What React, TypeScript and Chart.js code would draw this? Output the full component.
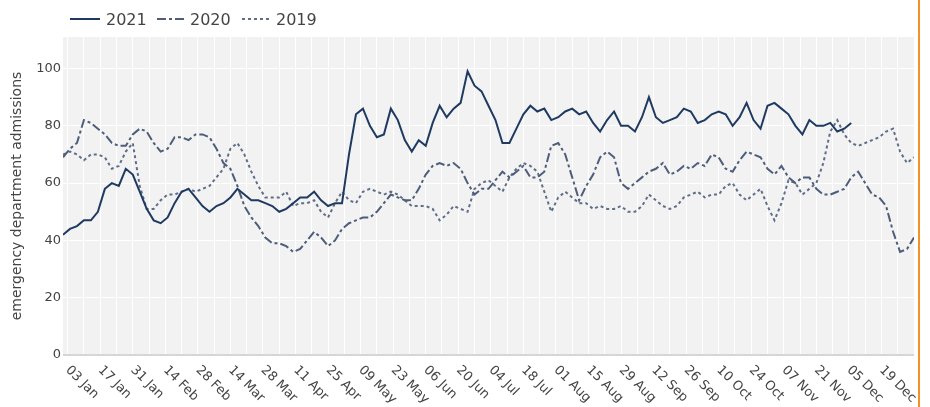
import React, { useEffect, useRef } from 'react'
import Chart from 'chart.js/auto'

// one sample every STEP days, day 0 = 1 Jan
const STEP = 3
const YEAR_DAYS = 366
const FIRST_TICK_DAY = 2
const TICK_LABELS = [
  '03 Jan', '17 Jan', '31 Jan', '14 Feb', '28 Feb', '14 Mar', '28 Mar', '11 Apr', '25 Apr',
  '09 May', '23 May', '06 Jun', '20 Jun', '04 Jul', '18 Jul', '01 Aug', '15 Aug', '29 Aug',
  '12 Sep', '26 Sep', '10 Oct', '24 Oct', '07 Nov', '21 Nov', '05 Dec', '19 Dec',
]

const SERIES_2021 = [
  42, 44, 45, 47, 47, 50, 58, 60, 59, 65,
  63, 57, 51, 47, 46, 48, 53, 57, 58, 55,
  52, 50, 52, 53, 55, 58, 56, 54, 54, 53,
  52, 50, 51, 53, 55, 55, 57, 54, 52, 53,
  53, 70, 84, 86, 80, 76, 77, 86, 82, 75,
  71, 75, 73, 81, 87, 83, 86, 88, 99, 94,
  92, 87, 82, 74, 74, 79, 84, 87, 85, 86,
  82, 83, 85, 86, 84, 85, 81, 78, 82, 85,
  80, 80, 78, 83, 90, 83, 81, 82, 83, 86,
  85, 81, 82, 84, 85, 84, 80, 83, 88, 82,
  79, 87, 88, 86, 84, 80, 77, 82, 80, 80,
  81, 78, 79, 81,
]

const SERIES_2020 = [
  69, 72, 74, 82, 81, 79, 77, 74, 73, 73,
  77, 79, 78, 74, 71, 72, 76, 76, 75, 77,
  77, 76, 72, 67, 65, 59, 52, 48, 45, 41,
  39, 39, 38, 36, 37, 40, 43, 41, 38, 40,
  44, 46, 47, 48, 48, 50, 53, 56, 55, 54,
  54, 58, 63, 66, 67, 66, 67, 65, 60, 56,
  58, 58, 61, 64, 62, 64, 66, 62, 62, 64,
  73, 74, 70, 62, 54, 59, 63, 69, 71, 69,
  60, 58, 60, 62, 64, 65, 67, 63, 64, 66,
  65, 67, 66, 70, 69, 65, 64, 68, 71, 70,
  69, 65, 63, 66, 62, 60, 62, 62, 58, 56,
  56, 57, 58, 62, 64, 60, 56, 55, 52, 43,
  36, 37, 41,
]

const SERIES_2019 = [
  70, 71, 70, 68, 70, 70, 69, 65, 66, 71,
  74, 59, 51, 51, 54, 56, 56, 57, 58, 57,
  58, 59, 62, 65, 72, 74, 70, 64, 59, 55,
  55, 55, 57, 52, 53, 53, 54, 50, 48, 53,
  57, 54, 53, 57, 58, 57, 56, 57, 56, 54,
  52, 52, 52, 51, 47, 49, 52, 51, 50, 58,
  60, 61, 59, 57, 62, 65, 67, 66, 64, 57,
  50, 55, 57, 55, 53, 53, 51, 52, 51, 51,
  52, 50, 50, 52, 56, 54, 52, 51, 52, 55,
  56, 57, 55, 56, 56, 59, 60, 56, 54, 56,
  58, 52, 47, 53, 61, 60, 56, 58, 60, 67,
  78, 82, 77, 74, 73, 74, 75, 76, 78, 79,
  71, 67, 69,
]

const FONT = '"DejaVu Sans", Verdana, sans-serif'
const TEXT = '#444'

const SERIES = [
  { label: '2021', values: SERIES_2021, color: '#1f3a60', dash: [] as number[] },
  { label: '2020', values: SERIES_2020, color: '#4d5d7a', dash: [9, 3, 3, 3] },
  { label: '2019', values: SERIES_2019, color: '#5f6e88', dash: [3, 3] },
]

// legend item positions (px from the left of the page)
const LEGEND_X = [70, 157, 242]
const LEGEND_LINE = [30, 27, 28]

const plotBackground = {
  id: 'plotBackground',
  beforeDraw(chart: any) {
    const { ctx, chartArea: a } = chart
    ctx.save()
    ctx.fillStyle = '#f2f2f2'
    ctx.fillRect(a.left, a.top, a.right - a.left, a.bottom - a.top)
    ctx.restore()
  },
}

// slanted date labels, starting at the tick and running down to the right
const slantedLabels = {
  id: 'slantedLabels',
  afterDraw(chart: any) {
    const { ctx, chartArea } = chart
    const x = chart.scales.x
    ctx.save()
    ctx.font = `13px ${FONT}`
    ctx.fillStyle = TEXT
    ctx.textAlign = 'left'
    ctx.textBaseline = 'middle'
    TICK_LABELS.forEach((label, i) => {
      const px = x.getPixelForValue(FIRST_TICK_DAY + i * 14)
      ctx.save()
      ctx.translate(px, chartArea.bottom + 13)
      ctx.rotate(Math.PI / 4)
      ctx.fillText(label, 0, 0)
      ctx.restore()
    })
    ctx.restore()
  },
}

export default function App() {
  const canvasRef = useRef<HTMLCanvasElement>(null)
  const chartRef = useRef<Chart | null>(null)

  useEffect(() => {
    document.body.style.margin = '0'
    if (!canvasRef.current) return
    const ctx = canvasRef.current.getContext('2d')
    if (!ctx) return

    chartRef.current = new Chart(ctx, {
      type: 'line',
      data: {
        datasets: SERIES.map(s => ({
          label: s.label,
          data: s.values.map((v, i) => ({ x: i * STEP, y: v })),
          borderColor: s.color,
          borderWidth: 2,
          borderDash: s.dash,
          pointRadius: 0,
          tension: 0,
          fill: false,
        })),
      },
      options: {
        animation: false,
        responsive: true,
        maintainAspectRatio: false,
        layout: { padding: { top: 37, right: 16, left: 0, bottom: 0 } },
        plugins: { legend: { display: false }, tooltip: { enabled: false } },
        scales: {
          x: {
            type: 'linear',
            min: 0,
            max: YEAR_DAYS,
            border: { display: false },
            grid: { color: '#ffffff', lineWidth: 1, drawTicks: false },
            ticks: { display: false },
            afterBuildTicks: (scale: any) => {
              const ticks = []
              for (let d = FIRST_TICK_DAY; d <= YEAR_DAYS; d += 7) ticks.push({ value: d })
              scale.ticks = ticks
            },
            afterFit: (scale: any) => { scale.height = 52 },
          },
          y: {
            min: 0,
            max: 111,
            border: { display: false },
            grid: {
              color: (c: any) => (c.tick && c.tick.value === 0 ? '#d6d6d6' : '#ffffff'),
              lineWidth: (c: any) => (c.tick && c.tick.value === 0 ? 2 : 1),
              drawTicks: false,
            },
            ticks: {
              stepSize: 20,
              padding: 2,
              color: TEXT,
              font: { family: FONT, size: 13 },
              callback: (v: any) => (v % 20 === 0 && v <= 100 ? String(v) : null),
            },
            title: {
              display: true,
              text: 'emergency department admissions',
              color: TEXT,
              font: { family: FONT, size: 14 },
              padding: { top: 9, bottom: 0 },
            },
            afterFit: (scale: any) => { scale.width = 63 },
          },
        },
      },
      plugins: [plotBackground, slantedLabels],
    })

    return () => {
      if (chartRef.current) chartRef.current.destroy()
      chartRef.current = null
    }
  }, [])

  return (
    <div style={{ position: 'relative', width: 930, height: 407, background: '#fff', fontFamily: FONT }}>
      <canvas ref={canvasRef}></canvas>
      {SERIES.map((s, i) => (
        <div
          key={s.label}
          style={{ position: 'absolute', left: LEGEND_X[i], top: 8, height: 22, display: 'flex', alignItems: 'center', gap: 6 }}
        >
          <svg width={LEGEND_LINE[i]} height={6}>
            <line x1={0} y1={3} x2={LEGEND_LINE[i]} y2={3} stroke={s.color} strokeWidth={2} strokeDasharray={s.dash.join(',')} />
          </svg>
          <span style={{ fontSize: 16, color: TEXT }}>{s.label}</span>
        </div>
      ))}
      <div style={{ position: 'absolute', left: 918, top: 0, width: 2, height: 407, background: '#f39325' }}></div>
    </div>
  )
}
